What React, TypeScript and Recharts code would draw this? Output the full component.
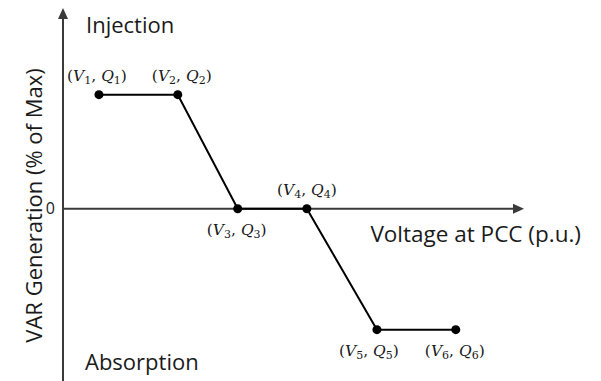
import React from 'react';
import { LineChart, Line, XAxis, YAxis, ReferenceLine, LabelList } from 'recharts';

// Data
const voltages = [7.8, 24.9, 37.9, 52.9, 68.1, 85.2];
const varPercent = [100, 100, 0, 0, -106, -106];
const pointIndex = ['1', '2', '3', '4', '5', '6'];
const yTicks = [0];
const xAxisTitle = 'Voltage at PCC (p.u.)';
const yAxisTitle = 'VAR Generation (% of Max)';
const topNote = 'Injection';
const bottomNote = 'Absorption';

// Label placement (style)
const labelSide = ['above', 'above', 'below', 'above', 'below', 'below'];
const labelDx = [-2, 4, -1, 0, -8, -1];

const data = voltages.map((v, i) => ({ v, q: varPercent[i], idx: pointIndex[i] }));

const SANS = '"Open Sans", sans-serif';
const MATH = '"DejaVu Serif", serif';
const AXIS = '#3a3a3a';
const TEXT = '#1a1a1a';

const PointLabel = (props: any) => {
  const { x, y, value } = props;
  const i = pointIndex.indexOf(String(value));
  const above = labelSide[i] === 'above';
  const cx = x + labelDx[i];
  const by = above ? y - 14 : y + 26;
  return (
    <text x={cx} y={by} textAnchor="middle" fontFamily={MATH} fontSize={15.5} fill={TEXT}>
      <tspan>(</tspan>
      <tspan fontStyle="italic">V</tspan>
      <tspan fontSize={11} dy={3}>{value}</tspan>
      <tspan dy={-3}>, </tspan>
      <tspan fontStyle="italic">Q</tspan>
      <tspan fontSize={11} dy={3}>{value}</tspan>
      <tspan dy={-3}>)</tspan>
    </text>
  );
};

const VerticalAxisShape = (p: any) => {
  const x = p.x1;
  const top = Math.min(p.y1, p.y2);
  const bottom = Math.max(p.y1, p.y2);
  const mid = (top + bottom) / 2;
  return (
    <g>
      <line x1={x} y1={top + 8} x2={x} y2={bottom} stroke={AXIS} strokeWidth={2} />
      <polygon points={`${x},${top} ${x - 5},${top + 11} ${x + 5},${top + 11}`} fill={AXIS} />
      <text x={x + 23} y={top + 25} fontFamily={SANS} fontSize={22} fill={TEXT}>{topNote}</text>
      <text x={x + 22} y={bottom - 11} fontFamily={SANS} fontSize={22} fill={TEXT}>{bottomNote}</text>
      <text
        x={x - 30}
        y={mid + 11}
        transform={`rotate(-90, ${x - 30}, ${mid + 11})`}
        textAnchor="middle"
        dominantBaseline="central"
        fontFamily={SANS}
        fontSize={22}
        fill={TEXT}
      >
        {yAxisTitle}
      </text>
    </g>
  );
};

const HorizontalAxisShape = (p: any) => {
  const y = p.y1;
  const left = Math.min(p.x1, p.x2);
  const right = Math.max(p.x1, p.x2);
  return (
    <g>
      <line x1={left} y1={y} x2={right - 8} y2={y} stroke={AXIS} strokeWidth={2} />
      <polygon points={`${right},${y} ${right - 11},${y - 5} ${right - 11},${y + 5}`} fill={AXIS} />
      <text x={right + 57} y={y + 33} textAnchor="end" fontFamily={SANS} fontSize={22.5} fill={TEXT}>
        {xAxisTitle}
      </text>
    </g>
  );
};

export default function App() {
  return (
    <div style={{ position: 'absolute', left: 0, top: 0, width: 601, height: 381, background: '#fff' }}>
      <LineChart width={601} height={381} data={data} margin={{ top: 8, right: 77, bottom: 0, left: 0 }}>
        <XAxis dataKey="v" type="number" domain={[0, 100]} hide />
        <YAxis
          type="number"
          domain={[-151, 176]}
          ticks={yTicks}
          width={63}
          axisLine={false}
          tickLine={false}
          tick={{ fontFamily: SANS, fontSize: 16, fill: TEXT }}
        />
        <ReferenceLine x={0} shape={VerticalAxisShape} />
        <ReferenceLine y={0} shape={HorizontalAxisShape} />
        <Line
          dataKey="q"
          type="linear"
          stroke="#000"
          strokeWidth={2}
          dot={{ r: 4.5, fill: '#000', stroke: '#000', strokeWidth: 0 }}
          activeDot={false}
          isAnimationActive={false}
        >
          <LabelList dataKey="idx" content={PointLabel} />
        </Line>
      </LineChart>
    </div>
  );
}
